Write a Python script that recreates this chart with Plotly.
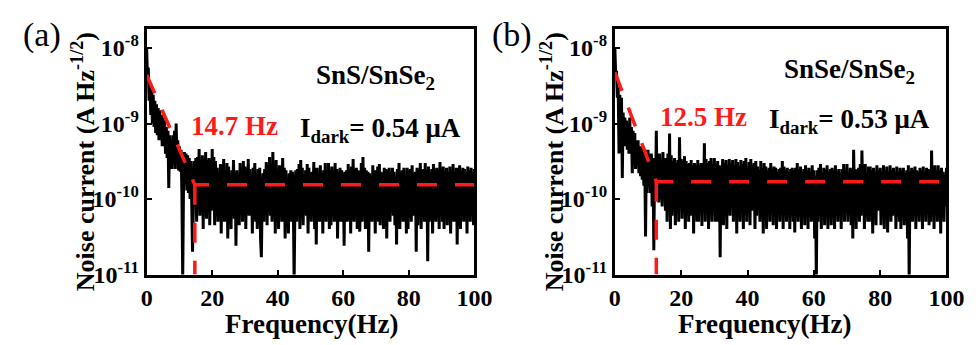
import numpy as np
import plotly.graph_objects as go

W, H = 976, 345

# ---------------- data ----------------
# noise current, in units of 1e-10 A Hz^-1/2, sampled every 0.25 Hz (0..100 Hz)
noise_a = [
    100, 40, 55, 20, 35, 13, 28, 10, 24, 9, 20, 7.5, 18, 7, 16, 6, 15, 6, 13, 5,
    12, 5, 11, 4, 9, 3.5, 8, 1.4, 7, 3, 6, 2.5, 7, 3, 8, 2.5, 10, 3, 6, 2.4,
    5, 2.3, 4.5, 1.2, 0.09, 1.5, 4.2, 1.6, 4, 1.3, 3.8, 1.2, 3.5, 1.0, 3.2, 0.9, 0.2, 0.8, 3.2, 1.1,
    3.5, 0.5, 3.6, 1.2, 4.6, 0.6, 3.0, 1.0, 3.8, 0.4, 3.4, 0.8, 4.2, 0.55, 3.3, 0.9, 3.5, 0.45, 3.3, 0.7,
    4.6, 0.8, 3.6, 0.45, 3.2, 0.6, 2.6, 0.5, 2.0, 0.9, 2.9, 0.35, 2.8, 1.0, 3.4, 0.5, 2.2, 0.6, 3.0, 0.3,
    2.7, 0.8, 1.9, 0.4, 2.4, 0.9, 3.3, 0.55, 2.2, 0.24, 2.4, 0.8, 1.8, 0.45, 3.0, 0.9, 2.4, 0.5, 3.2, 0.8,
    2.7, 0.4, 2.3, 0.9, 3.4, 0.6, 2.5, 0.8, 1.9, 0.35, 2.6, 1.0, 3.0, 0.5, 2.2, 0.4, 2.5, 0.8, 2.6, 0.3,
    0.17, 1.0, 2.2, 0.5, 2.5, 0.9, 3.1, 0.45, 2.8, 1.0, 3.6, 0.6, 3.0, 0.5, 4.2, 0.9, 2.6, 0.35, 3.3, 0.9,
    2.1, 0.4, 2.8, 0.9, 2.7, 0.5, 3.5, 0.6, 2.6, 0.3, 2.4, 0.8, 1.9, 0.35, 2.2, 0.9, 2.4, 0.5, 2.3, 0.9,
    0.08, 0.9, 2.4, 0.5, 2.5, 1.0, 2.9, 0.4, 3.3, 0.9, 2.6, 0.45, 2.0, 1.0, 2.4, 0.6, 2.9, 0.35, 2.6, 0.7,
    2.2, 0.5, 2.3, 0.9, 3.1, 0.4, 2.6, 0.25, 2.6, 0.9, 1.9, 0.5, 2.8, 0.6, 2.2, 0.35, 2.4, 0.9, 3.0, 0.5,
    2.4, 0.9, 3.0, 0.4, 2.4, 0.45, 2.7, 0.9, 1.8, 0.5, 3.0, 0.7, 2.5, 0.3, 2.3, 0.8, 2.6, 0.5, 2.4, 0.7,
    2.2, 0.24, 2.3, 0.9, 2.4, 0.5, 2.9, 0.6, 2.5, 0.35, 2.7, 0.8, 3.4, 0.5, 2.5, 0.8, 2.6, 0.4, 2.4, 0.8,
    0.37, 0.9, 3.0, 0.5, 3.6, 0.8, 2.6, 0.4, 2.4, 0.9, 2.3, 0.2, 2.2, 0.9, 1.9, 0.5, 2.8, 1.0, 2.4, 0.35,
    2.4, 0.9, 2.7, 0.5, 2.9, 0.45, 2.3, 1.0, 2.2, 0.4, 2.6, 0.9, 2.5, 0.3, 2.4, 0.8, 2.6, 0.5, 2.3, 0.8,
    2.6, 0.6, 2.3, 0.45, 2.0, 0.25, 2.5, 0.9, 3.0, 0.4, 2.3, 1.0, 2.4, 0.5, 2.6, 0.9, 1.8, 0.35, 2.6, 0.4,
    2.4, 0.9, 2.5, 0.5, 2.8, 0.6, 2.2, 0.9, 2.3, 0.2, 2.6, 0.45, 2.4, 1.0, 3.0, 0.4, 2.4, 0.9, 2.5, 0.5,
    3.0, 0.8, 2.4, 0.15, 2.7, 0.5, 2.3, 0.6, 2.5, 0.35, 2.9, 0.9, 2.4, 0.5, 2.6, 0.8, 2.5, 0.4, 3.1, 0.9,
    2.5, 0.5, 2.7, 0.4, 2.4, 0.9, 2.6, 0.45, 2.3, 0.7, 2.7, 0.35, 2.5, 0.8, 2.9, 0.5, 2.3, 0.8, 2.6, 0.25,
    2.6, 0.9, 2.8, 0.4, 2.4, 0.9, 2.6, 0.5, 2.5, 1.0, 2.3, 0.35, 2.7, 0.9, 2.4, 0.5, 2.6, 0.9, 2.2, 0.45,
    2.5,
]

noise_b = [
    100, 45, 50, 22, 30, 4, 24, 10, 22, 1.9, 14, 6, 12, 5, 11, 4.5, 10, 4, 12, 4,
    9, 2.2, 8, 3, 7.5, 2.5, 6, 2.8, 6, 2.2, 5, 2, 5, 1.8, 4.5, 1.5, 4.5, 0.32, 4.5, 1.2,
    4.5, 1.5, 4, 1.2, 4, 0.8, 3.5, 0.21, 3.5, 1.0, 8, 1.2, 3.5, 0.9, 4, 1.0, 3.2, 0.8, 4.2, 1.1,
    3.5, 0.7, 3.5, 0.5, 4, 0.9, 7.4, 0.4, 3.8, 0.6, 3.2, 0.9, 3.5, 0.45, 3.0, 0.8, 3.3, 0.5, 6.6, 0.9,
    3.4, 0.55, 3.2, 1.0, 3.7, 0.4, 3.2, 0.9, 2.9, 0.5, 3.0, 0.6, 3.3, 0.9, 2.8, 0.35, 3.0, 0.8, 2.8, 0.5,
    3.3, 0.5, 2.8, 0.8, 3.0, 0.44, 3.0, 0.9, 5.5, 0.5, 3.4, 0.7, 3.0, 0.4, 3.2, 1.0, 3.5, 0.5, 2.9, 0.9,
    3.5, 0.5, 2.9, 0.5, 3.2, 0.9, 2.8, 0.17, 2.7, 1.0, 3.4, 0.45, 3.0, 0.9, 3.3, 0.4, 2.8, 1.0, 3.4, 0.6,
    3.0, 0.8, 3.3, 0.5, 2.8, 0.9, 3.4, 0.35, 3.1, 1.0, 2.7, 0.5, 3.3, 0.9, 2.9, 0.4, 3.2, 0.9, 3.5, 0.5,
    2.6, 0.8, 3.1, 0.45, 3.4, 0.7, 2.8, 1.0, 3.0, 0.4, 3.2, 0.6, 2.7, 1.0, 2.4, 0.5, 3.2, 0.8, 2.6, 0.35,
    3.0, 0.9, 2.7, 0.4, 2.4, 0.9, 2.6, 0.5, 3.0, 1.0, 2.5, 0.45, 2.7, 0.7, 2.6, 0.4, 2.3, 1.0, 2.5, 0.5,
    2.6, 0.9, 3.2, 0.4, 2.7, 1.0, 2.4, 0.5, 2.6, 0.9, 2.3, 0.4, 2.5, 0.9, 2.6, 0.5, 2.4, 0.36, 2.6, 0.8,
    3.0, 0.5, 2.5, 0.9, 2.7, 0.4, 2.3, 1.0, 2.5, 0.45, 2.8, 0.9, 2.4, 0.4, 2.6, 1.0, 2.3, 0.5, 2.8, 0.8,
    2.4, 0.3, 2.0, 0.08, 2.4, 0.5, 2.6, 0.7, 2.9, 0.4, 2.2, 0.8, 2.6, 0.45, 2.4, 0.9, 2.8, 0.4, 2.3, 1.0,
    2.5, 0.45, 2.6, 0.9, 2.4, 0.4, 2.8, 1.0, 2.3, 0.5, 2.5, 0.9, 2.2, 0.4, 2.5, 0.9, 2.9, 0.5, 2.3, 1.0,
    2.9, 0.5, 2.3, 0.9, 2.6, 0.45, 2.4, 0.3, 4.5, 1.0, 2.5, 0.4, 2.4, 0.9, 2.6, 0.5, 2.9, 0.6, 4.4, 1.0,
    2.6, 0.4, 2.9, 0.9, 2.2, 0.5, 2.7, 0.5, 2.7, 0.9, 2.4, 0.35, 2.6, 1.0, 2.3, 0.45, 2.8, 0.7, 2.4, 0.9,
    2.6, 0.45, 2.3, 0.9, 2.8, 0.4, 2.4, 0.9, 2.7, 0.36, 2.3, 0.8, 2.8, 0.5, 2.4, 0.6, 2.6, 1.0, 2.3, 0.4,
    2.7, 0.9, 2.3, 0.5, 2.6, 0.4, 2.4, 0.8, 2.6, 0.45, 2.2, 0.8, 2.4, 0.3, 2.8, 0.08, 2.3, 1.0, 2.6, 0.5,
    2.4, 0.9, 2.7, 0.4, 2.4, 1.0, 2.3, 0.5, 2.6, 0.9, 2.4, 0.4, 2.7, 0.9, 2.3, 0.5, 2.6, 0.8, 2.5, 0.45,
    2.3, 0.5, 4.4, 0.9, 2.5, 0.4, 2.8, 1.0, 2.4, 0.5, 2.8, 0.9, 2.4, 0.35, 2.6, 0.9, 2.3, 0.5, 2.1, 0.8,
    2.6,
]

freq_step = 0.25  # Hz
freq_a = [i * freq_step for i in range(len(noise_a))]
freq_b = [i * freq_step for i in range(len(noise_b))]

# red guide lines (1/f corner)
guide_a_x = [0, 14.7, 100]
guide_a_y = [4.4e-9, 1.55e-10, 1.55e-10]
corner_a = 14.7
guide_b_x = [0, 12.5, 100]
guide_b_y = [4.8e-9, 1.7e-10, 1.7e-10]
corner_b = 12.5
floor_y = 1e-11

x_ticks = [0, 20, 40, 60, 80, 100]
y_ticks = [1e-11, 1e-10, 1e-9, 1e-8]
y_ticktext = ["<b>10<sup>-11</sup></b>", "<b>10<sup>-10</sup></b>",
              "<b>10<sup>-9</sup></b>", "<b>10<sup>-8</sup></b>"]

labels = ["(a)", "(b)"]
samples = ["SnS/SnSe<sub>2</sub>", "SnSe/SnSe<sub>2</sub>"]
corner_text = ["14.7 Hz", "12.5 Hz"]
dark_text = ["I<sub>dark</sub>= 0.54 μA", "I<sub>dark</sub>= 0.53 μA"]

FONT = "Times New Roman, Liberation Serif, Times, DejaVu Serif, serif"

# ---------------- figure ----------------
fig = go.Figure()

def px_x(x):
    return x / W

def px_y(y):
    return 1 - y / H

panels = [
    dict(xa="x", ya="y", f=freq_a, noise=noise_a, gx=guide_a_x, gy=guide_a_y, corner=corner_a),
    dict(xa="x2", ya="y2", f=freq_b, noise=noise_b, gx=guide_b_x, gy=guide_b_y, corner=corner_b),
]

for p in panels:
    fig.add_trace(go.Scatter(
        x=p["f"], y=np.array(p["noise"]) * 1e-10, mode="lines",
        line=dict(color="black", width=3, simplify=False),
        xaxis=p["xa"], yaxis=p["ya"],
        showlegend=False, hoverinfo="skip"))
    fig.add_trace(go.Scatter(
        x=p["gx"], y=p["gy"], mode="lines",
        line=dict(color="#ff1a1a", width=3.5, dash="20px,18px"),
        xaxis=p["xa"], yaxis=p["ya"], showlegend=False, hoverinfo="skip"))
    fig.add_trace(go.Scatter(
        x=[p["corner"], p["corner"]], y=[p["gy"][1], floor_y], mode="lines",
        line=dict(color="#ff1a1a", width=3.5, dash="20px,18px"),
        xaxis=p["xa"], yaxis=p["ya"], showlegend=False, hoverinfo="skip"))

axis_common = dict(
    showline=True, linecolor="black", linewidth=3, mirror=True,
    ticks="inside", ticklen=5, tickwidth=2, tickcolor="black",
    showgrid=False, zeroline=False,
    tickfont=dict(family=FONT, size=24, color="black"),
)

fig.update_layout(
    width=W, height=H,
    margin=dict(l=0, r=0, t=0, b=0),
    paper_bgcolor="white", plot_bgcolor="white",
    font=dict(family=FONT, color="black"),
    xaxis=dict(domain=[px_x(136), px_x(472)], range=[0, 100],
               tickvals=x_ticks, ticktext=[f"<b>{v}</b>" for v in x_ticks],
               anchor="y", **axis_common),
    yaxis=dict(domain=[px_y(277), px_y(22)], type="log", range=[-11, -7.75],
               tickvals=y_ticks, ticktext=y_ticktext, anchor="x",
               ticklabelstandoff=0, **axis_common),
    xaxis2=dict(domain=[px_x(616), px_x(956)], range=[0, 100],
                tickvals=x_ticks, ticktext=[f"<b>{v}</b>" for v in x_ticks],
                anchor="y2", **axis_common),
    yaxis2=dict(domain=[px_y(277), px_y(22)], type="log", range=[-11, -7.75],
                tickvals=y_ticks, ticktext=y_ticktext, anchor="x2",
                ticklabelstandoff=0, **axis_common),
)

ann = []
def add_text(text, x, y, size, color="black", angle=0, bold=True):
    t = f"<b>{text}</b>" if bold else text
    ann.append(dict(text=t, x=px_x(x), y=px_y(y), xref="paper", yref="paper",
                    showarrow=False, xanchor="center", yanchor="middle",
                    textangle=angle,
                    font=dict(family=FONT, size=size, color=color)))

# panel (a)
add_text(labels[0], 29, 28, 34, bold=False)
add_text("Noise current (A Hz<sup>-1/2</sup>)", 72, 160, 26, angle=-90)
add_text("Frequency(Hz)", 305, 328, 27)
add_text(samples[0], 371, 72, 27)
add_text(corner_text[0], 226, 123, 27, color="#ff1a1a")
add_text(dark_text[0], 376, 127, 27)

# panel (b)
add_text(labels[1], 511, 28, 34, bold=False)
add_text("Noise current (A Hz<sup>-1/2</sup>)", 553, 160, 26, angle=-90)
add_text("Frequency(Hz)", 769, 328, 27)
add_text(samples[1], 857, 65, 27)
add_text(corner_text[1], 707, 113, 27, color="#ff1a1a")
add_text(dark_text[1], 857, 117, 27)

fig.update_layout(annotations=ann)

fig.write_html("out.html")
